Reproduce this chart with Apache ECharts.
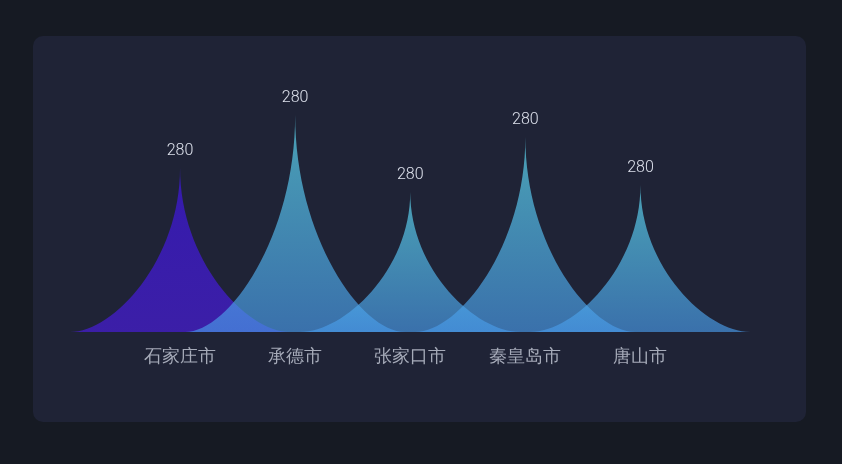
<!DOCTYPE html>
<html>
<head>
<meta charset="utf-8">
<script src="https://cdn.jsdelivr.net/npm/echarts@6/dist/echarts.min.js"></script>
<style>
html,body{margin:0;padding:0;background:#161a23;}
#chart{width:842px;height:464px;}
</style>
</head>
<body>
<div id="chart"></div>
<script>
const categories = ['石家庄市', '承德市', '张家口市', '秦皇岛市', '唐山市'];
const values = [164, 217, 140, 195, 147];
const labels = ['280', '280', '280', '280', '280'];

const blueGrad = new echarts.graphic.LinearGradient(0, 0, 0, 1, [
  { offset: 0, color: 'rgba(97,227,249,0.66)' },
  { offset: 1, color: 'rgba(72,153,232,0.66)' }
]);
const purpleGrad = new echarts.graphic.LinearGradient(0, 0, 0, 1, [
  { offset: 0, color: 'rgba(64,22,236,0.66)' },
  { offset: 1, color: 'rgba(74,28,226,0.66)' }
]);

const seriesData = values.map((v, i) => ({
  value: v,
  itemStyle: { color: i === 0 ? purpleGrad : blueGrad }
}));

const chart = echarts.init(document.getElementById('chart'));
chart.setOption({
  backgroundColor: '#161a23',
  graphic: [{
    type: 'rect',
    z: -10,
    silent: true,
    shape: { x: 33, y: 36, width: 773, height: 386, r: 10 },
    style: { fill: '#1f2336' }
  }],
  grid: { left: 122.5, right: 144, top: 82, bottom: 132 },
  xAxis: {
    type: 'category',
    data: categories,
    axisLine: { show: false },
    axisTick: { show: false },
    axisLabel: { color: '#a6abb9', fontSize: 18, margin: 16 }
  },
  yAxis: {
    type: 'value',
    min: 0,
    max: 250,
    show: false,
    splitLine: { show: false }
  },
  series: [{
    type: 'pictorialBar',
    symbol: 'path://M0,10 L10,10 C8,10 5,5.6 5,0 C5,5.6 2,10 0,10 z',
    barWidth: 220,
    data: seriesData,
    label: {
      show: true,
      position: 'top',
      distance: 9,
      color: '#dde1ec',
      fontSize: 16,
      fontFamily: 'Roboto',
      fontWeight: 300,
      formatter: p => labels[p.dataIndex]
    }
  }]
});
</script>
</body>
</html>
